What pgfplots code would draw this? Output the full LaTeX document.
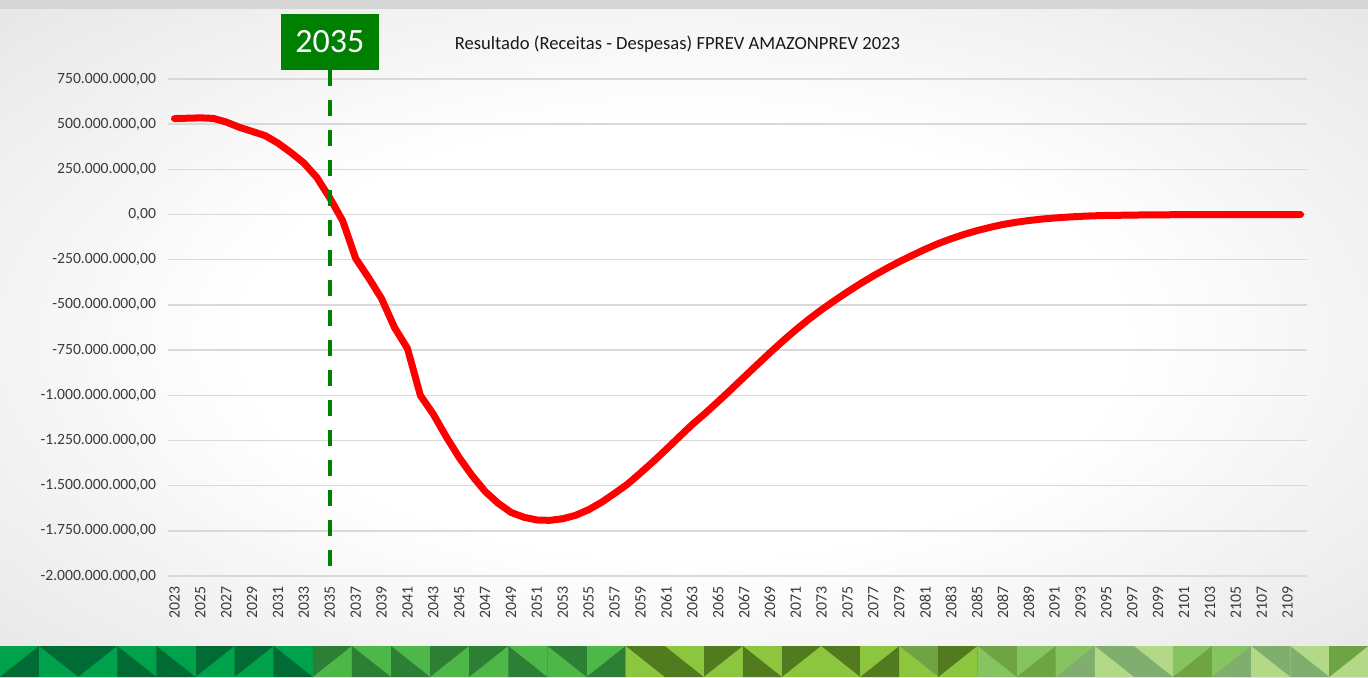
\documentclass[border=0pt]{standalone}
\usepackage{pgfplots}
\pgfplotsset{compat=1.18}
\usepackage{pgfplotstable}
\usepackage{fontspec}
\setmainfont{Carlito}
\definecolor{gridgray}{HTML}{D9D9D9}
\definecolor{dgreen}{HTML}{008000}
\definecolor{txt}{HTML}{3A3A3A}
\definecolor{ga}{HTML}{00A14B}
\definecolor{gb}{HTML}{006B35}
\definecolor{gc}{HTML}{2C7F35}
\definecolor{gd}{HTML}{4DB748}
\definecolor{ge}{HTML}{527A1E}
\definecolor{gf}{HTML}{8CC63F}
\definecolor{gg}{HTML}{6FA444}
\definecolor{gh}{HTML}{86C461}
\definecolor{gi}{HTML}{B2D888}
\definecolor{gj}{HTML}{7FAE6E}
\pgfdeclareradialshading{bgshade}{\pgfpoint{0bp}{0bp}}{color(0bp)=(white); color(16bp)=(white); color(50bp)=(black!17); color(72bp)=(black!26)}

\pgfplotstableread{
year val
2023 531
2024 533
2025 535
2026 532
2027 512
2028 483
2029 460
2030 437
2031 395
2032 343
2033 285
2034 205
2035 92
2036 -35
2037 -243
2038 -350
2039 -465
2040 -625
2041 -741
2042 -1001
2043 -1105
2044 -1230
2045 -1345
2046 -1445
2047 -1532
2048 -1597
2049 -1648
2050 -1675
2051 -1690
2052 -1692
2053 -1683
2054 -1664
2055 -1633
2056 -1592
2057 -1543
2058 -1492
2059 -1430
2060 -1366
2061 -1299
2062 -1230
2063 -1162
2064 -1100
2065 -1035
2066 -968
2067 -900
2068 -832
2069 -765
2070 -700
2071 -638
2072 -580
2073 -526
2074 -476
2075 -428
2076 -382
2077 -339
2078 -299
2079 -261
2080 -226
2081 -192
2082 -161
2083 -134
2084 -110
2085 -89
2086 -71
2087 -55
2088 -43
2089 -33
2090 -25
2091 -19
2092 -14
2093 -10
2094 -7
2095 -5
2096 -4
2097 -3
2098 -2
2099 -2
2100 -1
2101 -1
2102 -1
2103 0
2104 0
2105 0
2106 0
2107 0
2108 0
2109 0
2110 0
}\resdata

\begin{document}
\begin{tikzpicture}
\useasboundingbox (0,0) rectangle (684pt,338.5pt);
\shade[shading=bgshade] (0,0) rectangle (684pt,338.5pt);
\fill[black!16] (0,334pt) rectangle (684pt,338.5pt);
% decorative bottom strip
\foreach \i/\d/\ca/\cb in {0/0/ga/gb,1/1/gb/ga,2/0/gb/ga,3/1/ga/gb,4/1/ga/gb,5/0/gb/ga,6/0/gb/ga,7/1/ga/gb,8/0/gc/gd,9/1/gd/gc,10/1/gd/gc,11/0/gc/gd,12/0/gc/gd,13/1/gd/gc,14/1/gc/gd,15/0/gd/gc,16/1/ge/gf,17/1/gf/ge,18/0/ge/gf,19/1/gf/ge,20/0/ge/gf,21/1/ge/gf,22/0/gf/ge,23/1/gg/gf,24/0/ge/gf,25/1/gg/gh,26/0/gh/gg,27/0/gh/gj,28/1/gj/gi,29/1/gi/gj,30/0/gh/gg,31/0/gh/gj,32/1/gj/gi,33/1/gi/gj,34/0/gg/gi}{
  \fill[\ca] (\i*19.55pt,0) rectangle ++(19.55pt,15.5pt);
  \ifnum\d=0
    \fill[\cb] (\i*19.55pt,0) -- ++(19.55pt,0) -- ++(0,15.5pt) -- cycle;
  \else
    \fill[\cb] (\i*19.55pt,0) -- ++(19.55pt,0) -- (\i*19.55pt,15.5pt) -- cycle;
  \fi
}
\node[font=\fontsize{9.3}{11}\selectfont, text=black!90] at (338.75pt,316.5pt) {Resultado (Receitas - Despesas) FPREV AMAZONPREV 2023};
\begin{axis}[
  at={(84pt,50.5pt)}, anchor=south west, scale only axis,
  width=569.5pt, height=248.5pt,
  xmin=2022.5, xmax=2110.5, ymin=-2000, ymax=750,
  xtick={2023,2025,...,2109},
  xticklabel={\pgfmathparse{int(round(\tick))}\pgfmathresult},
  ytick={-2000,-1750,...,750},
  yticklabels={{-2.000.000.000,00},{-1.750.000.000,00},{-1.500.000.000,00},{-1.250.000.000,00},{-1.000.000.000,00},{-750.000.000,00},{-500.000.000,00},{-250.000.000,00},{0,00},{250.000.000,00},{500.000.000,00},{750.000.000,00}},
  xticklabel style={rotate=90, anchor=east, font=\fontsize{7.9}{9}\selectfont, text=txt, xshift=-1.5pt},
  yticklabel style={font=\fontsize{7.8}{9}\selectfont, text=txt, xshift=-2.5pt},
  ymajorgrids, grid style={gridgray, line width=0.75pt},
  axis line style={draw=none}, tick style={draw=none},
  clip=false,
]
\addplot[red, line width=3.5pt, line join=round, line cap=round, no markers] table[x=year, y=val] {\resdata};
\draw[dgreen, line width=2pt, dash pattern=on 8pt off 7pt] ([yshift=4.5pt]axis cs:2035,750) -- (axis cs:2035,-2000);
\node[fill=dgreen, text=white, minimum width=49pt, minimum height=28pt, inner sep=0pt, font=\fontsize{17}{17}\selectfont] at ([yshift=18.5pt]axis cs:2035,750) {2035};
\end{axis}
\end{tikzpicture}
\end{document}
